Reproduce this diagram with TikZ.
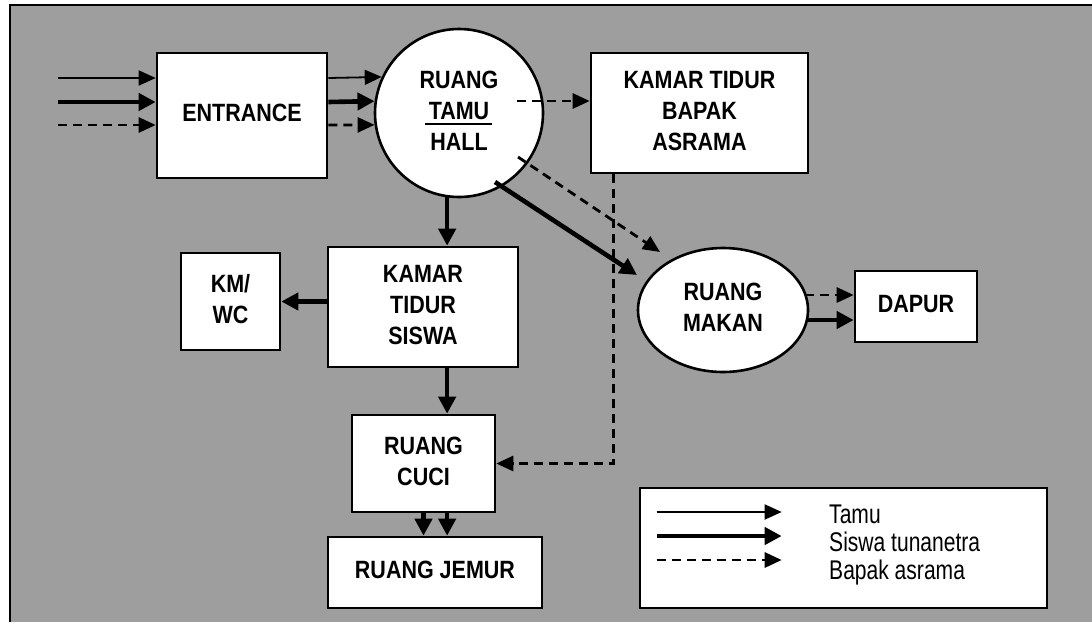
\documentclass[tikz,border=0pt]{standalone}
\usepackage{fontspec}
\setmainfont{Liberation Sans}
\newfontfamily\boxfont{Liberation Sans}[FakeStretch=0.86]
\newfontfamily\legfont{Liberation Sans}[FakeStretch=0.78]
\usetikzlibrary{arrows.meta,shapes.geometric,calc}
\newcommand\myul[1]{\setbox0\hbox{#1}\rlap{\kern-4pt\raisebox{-6pt}{\rule{\dimexpr\wd0+7pt\relax}{2.4pt}}}\box0}
\newcommand\tx[2]{\raisebox{#1}{\begin{tabular}{@{}c@{}}#2\end{tabular}}}
\definecolor{bggray}{gray}{0.62}
\tikzset{
  shapebase/.style={draw=black, line width=2.6pt, fill=white, inner sep=0pt,
    font=\boxfont\bfseries\fontsize{25}{31}\selectfont},
  box/.style={shapebase, rectangle},
  circ/.style={shapebase, circle},
  oval/.style={shapebase, ellipse},
  tamuarr/.style={line width=1.8pt, -{Triangle[length=17pt,width=15pt]}},
  siswaarr/.style={line width=4.6pt, -{Triangle[length=17pt,width=17pt]}},
  bapakarr/.style={line width=2.8pt, dash pattern=on 9pt off 6pt, -{Triangle[length=17pt,width=15pt]}},
  legtext/.style={font=\legfont\fontsize{27}{28}\selectfont, align=left, inner sep=0pt},
}
\begin{document}
\begin{tikzpicture}[x=1pt,y=-1pt]
\useasboundingbox (0,0) rectangle (1092,622);
\fill[bggray] (10,5) rectangle (1092,622);
\draw[line width=2.5pt] (10,622) -- (10,5) -- (1092,5);

% nodes
\node[box, minimum width=170pt, minimum height=125pt] (entrance) at (242,115.5) {\tx{3.5pt}{ENTRANCE}};
\node[circ, minimum size=168pt] (tamu) at (459,113) {\tx{2pt}{RUANG\\\myul{TAMU}\\HALL}};
\node[box, minimum width=217pt, minimum height=120pt] (bapak) at (699.5,113) {\tx{0pt}{KAMAR TIDUR\\BAPAK\\ASRAMA}};
\node[oval, minimum width=170pt, minimum height=124pt] (makan) at (723,310) {\tx{0.5pt}{RUANG\\MAKAN}};
\node[box, minimum width=122pt, minimum height=71pt] (dapur) at (916,306.5) {\tx{6.5pt}{DAPUR}};
\node[box, minimum width=99pt, minimum height=97pt] (kmwc) at (230.5,301.5) {\tx{4.5pt}{KM/\\WC}};
\node[box, minimum width=190pt, minimum height=120pt] (siswa) at (423,307) {\tx{1pt}{KAMAR\\TIDUR\\SISWA}};
\node[box, minimum width=143pt, minimum height=97pt] (cuci) at (423.5,463.5) {\tx{4.5pt}{RUANG\\CUCI}};
\node[box, minimum width=214pt, minimum height=71pt] (jemur) at (435,572.5) {\tx{7.5pt}{RUANG JEMUR}};
\node[box, minimum width=407pt, minimum height=120pt] (legend) at (843.5,548) {};
\node[legtext, anchor=west] (legtxt) at (829,545) {Tamu\\Siswa tunanetra\\Bapak asrama};

% incoming arrows
\coordinate (in1) at (58,78);
\coordinate (in2) at (58,102);
\coordinate (in3) at (58,125);
\draw[tamuarr] (in1) -- (in1 -| entrance.west);
\draw[siswaarr] (in2) -- (in2 -| entrance.west);
\draw[bapakarr] (in3) -- (in3 -| entrance.west);

% entrance -> ruang tamu
\draw[tamuarr] (in1 -| entrance.east) -- (tamu.155);
\draw[siswaarr] (in2 -| entrance.east) -- (tamu.172);
\draw[bapakarr] (in3 -| entrance.east) -- (tamu.188);

% ruang tamu -> kamar tidur bapak
\draw[bapakarr] ($(tamu.center)+(58,-12)$) -- ($(bapak.west)+(0,-12)$);
% ruang tamu -> ruang makan
\draw[bapakarr] ($(tamu.center)+(59,44)$) -- ($(makan.center)+(-63,-58)$);
\draw[siswaarr] ($(tamu.center)+(36,69)$) -- ($(makan.center)+(-86,-35)$);
% ruang tamu -> kamar tidur siswa
\draw[siswaarr] (tamu.262) -- (tamu.262 |- siswa.north);
% siswa -> km/wc
\draw[siswaarr] (siswa.west |- kmwc.east) -- (kmwc.east);
% siswa -> cuci
\draw[siswaarr] (siswa.south -| tamu.262) -- (cuci.north -| tamu.262);
% cuci -> jemur
\draw[siswaarr] (cuci.south) -- (cuci.south |- jemur.north);
\draw[siswaarr] (cuci.south -| tamu.262) -- (jemur.north -| tamu.262);
% makan -> dapur
\draw[bapakarr] ($(makan.center)+(82,-15)$) -- ($(dapur.west)+(0,-11.5)$);
\draw[siswaarr] ($(makan.center)+(84,10)$) -- ($(dapur.west)+(0,13.5)$);
% bapak -> cuci
\draw[bapakarr] ($(bapak.south west)+(24,0)$) |- (cuci.east);

% legend arrows
\draw[tamuarr] ($(legend.west)+(18,-36)$) -- ++(125,0);
\draw[siswaarr] ($(legend.west)+(18,-12)$) -- ++(125,0);
\draw[bapakarr] ($(legend.west)+(18,12)$) -- ++(125,0);
\end{tikzpicture}
\end{document}
